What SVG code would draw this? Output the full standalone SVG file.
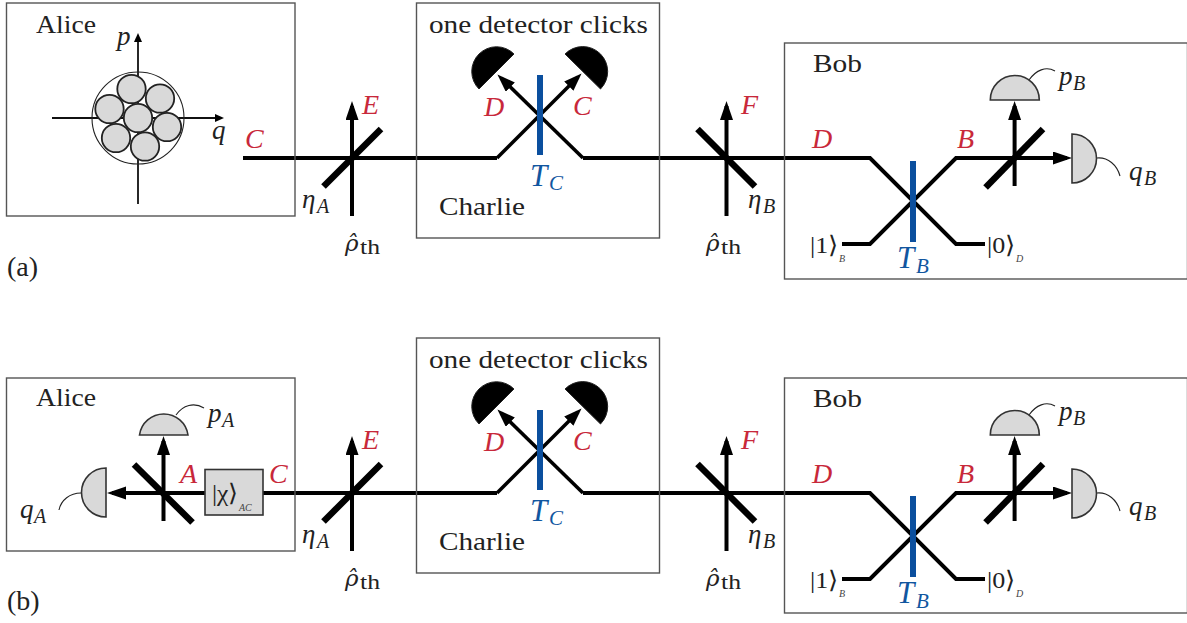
<svg xmlns="http://www.w3.org/2000/svg" width="1187" height="623" viewBox="0 0 1187 623">
<style>
text{font-family:"Liberation Serif","Times New Roman",serif;fill:#222}
.t{font-size:25px}
.p{font-size:28px}
.k{font-size:24px}
.i{font-style:italic;font-size:27px}
.rho{font-family:"DejaVu Serif","Liberation Serif",serif;font-style:italic;font-size:23px}
.th{font-size:21px}
.s{font-style:italic;font-size:20px}
.xs{font-style:italic;font-size:10px;fill:#444}
.r{font-style:italic;font-size:28px;fill:#c8283a}
.b{font-style:italic;font-size:31px;fill:#11569f}
.bs{font-style:italic;font-size:21px;fill:#11569f}
.box{fill:none;stroke:#555;stroke-width:1.4}
.beam{fill:none;stroke:#000;stroke-width:4;stroke-linejoin:miter}
.arr{marker-end:url(#big)}
.diag{fill:none;stroke:#000;stroke-width:3.6;marker-end:url(#mid)}
.axis{fill:none;stroke:#111;stroke-width:1.8;marker-end:url(#small)}
.split{stroke:#000;stroke-width:6.5;fill:none}
.blue{stroke:#0b4f9e;stroke-width:6;fill:none}
.det{fill:#d9d9d9;stroke:#333;stroke-width:1.6}
.blk{fill:#000;stroke:#222;stroke-width:1}
.wire{fill:none;stroke:#222;stroke-width:1.1}
.blob{fill:#d9d9d9;stroke:#222;stroke-width:1.8}
</style>
<defs>
<marker id="big" markerUnits="userSpaceOnUse" markerWidth="20" markerHeight="14" refX="14" refY="6.5" orient="auto"><path d="M0 0L19 6.5L0 13Z" fill="#000"/></marker>
<marker id="mid" markerUnits="userSpaceOnUse" markerWidth="20" markerHeight="14" refX="13" refY="6.5" orient="auto"><path d="M0 0L18 6.5L0 13Z" fill="#000"/></marker>
<marker id="small" markerUnits="userSpaceOnUse" markerWidth="10" markerHeight="10" refX="5" refY="4" orient="auto"><path d="M0 0L9 4L0 8Z" fill="#000"/></marker>
</defs>

<g id="connectors">
<path class="axis" d="M138 204V37"/>
<path class="axis" d="M52 118H220"/>
<path class="beam" d="M243 158H497"/>
<path class="beam" d="M583 158H870L956 244H985"/>
<path class="beam arr" d="M842 244H870L956 158H1067"/>
<path class="beam arr" d="M352 216V106"/>
<path class="beam arr" d="M726.5 216V106"/>
<path class="beam arr" d="M1014.6 186V106"/>
<path class="diag" d="M583 158L501 78"/>
<path class="diag" d="M497 158L578 77"/>
<path class="beam" d="M263 493H497"/>
<path class="beam" d="M583 493H870L956 579H985"/>
<path class="beam arr" d="M842 579H870L956 493H1067"/>
<path class="beam arr" d="M205 493H112"/>
<path class="beam arr" d="M352 551V441"/>
<path class="beam arr" d="M726.5 551V441"/>
<path class="beam arr" d="M1014.6 521V441"/>
<path class="beam arr" d="M163.5 521V441"/>
<path class="diag" d="M583 493L501 413"/>
<path class="diag" d="M497 493L578 412"/>
<path class="wire" d="M1029 80C1036 70 1046 66 1055 71"/>
<path class="wire" d="M1097 158C1108 157 1117 165 1120 176"/>
<path class="wire" d="M1029 415C1036 405 1046 401 1055 406"/>
<path class="wire" d="M1097 493C1108 492 1117 500 1120 511"/>
<path class="wire" d="M176 415C183 405 194 402 204 408"/>
<path class="wire" d="M81 493C70 493 61 500 59 510"/>
</g>

<g id="alice-a">
<rect class="box" x="6.5" y="3" width="288.5" height="213"/>
<text class="t" x="36" y="33" textLength="60" lengthAdjust="spacingAndGlyphs">Alice</text>
<text class="i" x="117" y="45">p</text>
<text class="i" x="212" y="139">q</text>
<circle cx="138" cy="118" r="46" fill="none" stroke="#222" stroke-width="1.1"/>
<circle class="blob" cx="131.5" cy="89" r="14.2"/>
<circle class="blob" cx="160" cy="98.5" r="14.2"/>
<circle class="blob" cx="109.5" cy="109" r="14.2"/>
<circle class="blob" cx="138" cy="118" r="14.2"/>
<circle class="blob" cx="167" cy="127" r="14.2"/>
<circle class="blob" cx="116" cy="138" r="14.2"/>
<circle class="blob" cx="145" cy="146.5" r="14.2"/>
</g>
<g id="label-a">
<text class="p" x="7" y="276">(a)</text>
<text class="r" x="245" y="148">C</text>
</g>
<g id="loss-a-alice">
<path class="split" d="M323.5 186.5L381 129"/>
<text class="r" x="362" y="114">E</text>
<text class="i" x="302" y="208">η</text><text class="s" x="317" y="213">A</text>
<text class="rho" x="345" y="251">ρ̂</text><text class="th" x="360" y="254" textLength="20" lengthAdjust="spacingAndGlyphs">th</text>
</g>
<g id="charlie-a">
<rect class="box" x="416.5" y="3" width="243" height="235"/>
<text class="t" x="429" y="33" textLength="219" lengthAdjust="spacingAndGlyphs">one detector clicks</text>
<text class="t" x="439" y="215" textLength="86" lengthAdjust="spacingAndGlyphs">Charlie</text>
<path class="blk" d="M479 89L514 54A24.7 24.7 0 0 0 479 89Z"/>
<path class="blk" d="M565 54L600.5 89A24.7 24.7 0 0 0 565 54Z"/>
<path class="blue" d="M540 75V155"/>
<text class="r" x="484" y="116">D</text>
<text class="r" x="573" y="115">C</text>
<text class="b" x="530" y="186">T</text><text class="bs" x="549" y="190">C</text>
</g>
<g id="loss-a-bob">
<path class="split" d="M697.5 129L755 186.5"/>
<text class="r" x="741" y="114">F</text>
<text class="i" x="748" y="208">η</text><text class="s" x="763" y="213">B</text>
<text class="rho" x="706" y="251">ρ̂</text><text class="th" x="721" y="254" textLength="20" lengthAdjust="spacingAndGlyphs">th</text>
</g>
<g id="bob-a">
<rect class="box" x="784.5" y="43" width="403" height="236"/>
<text class="t" x="813" y="72" textLength="49" lengthAdjust="spacingAndGlyphs">Bob</text>
<path class="blue" d="M913 161V242"/>
<path class="split" d="M985.6 187.5L1043 129"/>
<path class="det" d="M990.3 100A24.5 24.5 0 0 1 1039.3 100Z"/>
<path class="det" d="M1072 134A24.5 24.5 0 0 1 1072 183Z"/>
<text class="r" x="812" y="148">D</text>
<text class="r" x="957" y="148">B</text>
<text class="i" x="1059" y="85">p</text><text class="s" x="1073" y="90">B</text>
<text class="i" x="1129" y="180">q</text><text class="s" x="1144" y="185">B</text>
<text class="b" x="897" y="268">T</text><text class="bs" x="916" y="273">B</text>
<text class="k" x="810" y="253" textLength="28" lengthAdjust="spacingAndGlyphs">|1⟩</text><text class="xs" x="839" y="262">B</text>
<text class="k" x="987" y="253" textLength="28" lengthAdjust="spacingAndGlyphs">|0⟩</text><text class="xs" x="1016" y="262">D</text>
</g>

<g id="alice-b">
<rect class="box" x="6.5" y="378" width="288.5" height="173"/>
<text class="t" x="36" y="406" textLength="60" lengthAdjust="spacingAndGlyphs">Alice</text>
<path class="split" d="M134 464.5L192.5 522.5"/>
<path class="det" d="M139.5 435A24.5 24.5 0 0 1 188 435Z"/>
<path class="det" d="M106 468A24.5 24.5 0 0 0 106 517Z"/>
<text class="i" x="208" y="422">p</text><text class="s" x="222" y="427">A</text>
<text class="i" x="20" y="518">q</text><text class="s" x="34" y="523">A</text>
<text class="r" x="180" y="483">A</text>
<rect x="205" y="469.5" width="58" height="45.5" fill="#d9d9d9" stroke="#333" stroke-width="1.6"/>
<text class="k" x="212" y="501" textLength="26" lengthAdjust="spacingAndGlyphs">|χ⟩</text><text class="xs" x="239" y="511">AC</text>
<text class="r" x="269" y="483">C</text>
</g>
<g id="label-b">
<text class="p" x="7" y="610">(b)</text>
</g>
<g id="loss-b-alice">
<path class="split" d="M323.5 521.5L381 464"/>
<text class="r" x="362" y="449">E</text>
<text class="i" x="302" y="543">η</text><text class="s" x="317" y="548">A</text>
<text class="rho" x="345" y="586">ρ̂</text><text class="th" x="360" y="589" textLength="20" lengthAdjust="spacingAndGlyphs">th</text>
</g>
<g id="charlie-b">
<rect class="box" x="416.5" y="338" width="243" height="235"/>
<text class="t" x="429" y="368" textLength="219" lengthAdjust="spacingAndGlyphs">one detector clicks</text>
<text class="t" x="439" y="550" textLength="86" lengthAdjust="spacingAndGlyphs">Charlie</text>
<path class="blk" d="M479 424L514 389A24.7 24.7 0 0 0 479 424Z"/>
<path class="blk" d="M565 389L600.5 424A24.7 24.7 0 0 0 565 389Z"/>
<path class="blue" d="M540 410V490"/>
<text class="r" x="484" y="451">D</text>
<text class="r" x="573" y="450">C</text>
<text class="b" x="530" y="521">T</text><text class="bs" x="549" y="525">C</text>
</g>
<g id="loss-b-bob">
<path class="split" d="M697.5 464L755 521.5"/>
<text class="r" x="741" y="449">F</text>
<text class="i" x="748" y="543">η</text><text class="s" x="763" y="548">B</text>
<text class="rho" x="706" y="586">ρ̂</text><text class="th" x="721" y="589" textLength="20" lengthAdjust="spacingAndGlyphs">th</text>
</g>
<g id="bob-b">
<rect class="box" x="784.5" y="378" width="403" height="235"/>
<text class="t" x="813" y="407" textLength="49" lengthAdjust="spacingAndGlyphs">Bob</text>
<path class="blue" d="M913 496V577"/>
<path class="split" d="M985.6 522.5L1043 464"/>
<path class="det" d="M990.3 435A24.5 24.5 0 0 1 1039.3 435Z"/>
<path class="det" d="M1072 469A24.5 24.5 0 0 1 1072 518Z"/>
<text class="r" x="812" y="483">D</text>
<text class="r" x="957" y="483">B</text>
<text class="i" x="1059" y="420">p</text><text class="s" x="1073" y="425">B</text>
<text class="i" x="1129" y="515">q</text><text class="s" x="1144" y="520">B</text>
<text class="b" x="897" y="603">T</text><text class="bs" x="916" y="608">B</text>
<text class="k" x="810" y="588" textLength="28" lengthAdjust="spacingAndGlyphs">|1⟩</text><text class="xs" x="839" y="597">B</text>
<text class="k" x="987" y="588" textLength="28" lengthAdjust="spacingAndGlyphs">|0⟩</text><text class="xs" x="1016" y="597">D</text>
</g>
</svg>
